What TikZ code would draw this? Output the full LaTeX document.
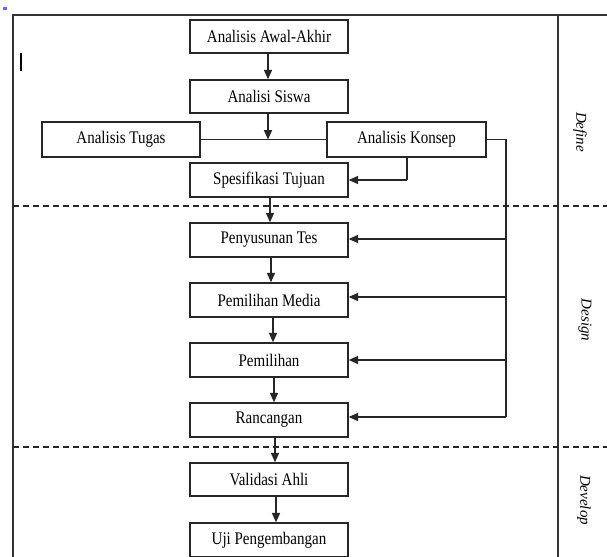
\documentclass[tikz,border=0pt]{standalone}
\usepackage{fontspec}
\usepackage{graphicx}
\setmainfont{Liberation Serif}
\usetikzlibrary{arrows.meta,calc}
\newcommand{\bt}[1]{\scalebox{1}[1.18]{#1}}
\tikzset{
  box/.style={draw=black!85, line width=1.1pt, fill=white, inner sep=0pt,
    minimum width=118.5pt, minimum height=25.5pt,
    font=\fontsize{11.25}{13}\selectfont},
  arr/.style={draw=black!85, line width=1.1pt, -{Triangle[length=7pt,width=6pt]}},
  ln/.style={draw=black!85, line width=1.1pt},
  frame/.style={draw=black!80, line width=1.1pt},
  dash line/.style={draw=black!85, line width=1.1pt, dash pattern=on 4.5pt off 3pt},
  phase/.style={rotate=-90, font=\fontsize{11.25}{13}\selectfont\itshape, inner sep=0pt}
}
\begin{document}
\begin{tikzpicture}[x=0.75pt,y=-0.75pt]
\useasboundingbox (0,0) rectangle (607,557);
\fill[white] (0,0) rectangle (607,557);
% frame
\draw[frame] (13,557) -- (13,15) -- (607,15);
\draw[frame] (558,15) -- (558,557);
\draw[dash line] (13,206) -- (607,206);
\draw[dash line] (13,447) -- (607,447);
% marks
\fill[blue!60] (3,7) rectangle (7,10);
\draw[black, line width=1.6pt] (21,53) -- (21,71);
% boxes
\node[box, minimum height=24.75pt] (awal) at (269,36.5) {\bt{Analisis Awal-Akhir}};
\node[box, minimum height=24.75pt] (siswa) at (269,96.5) {\bt{Analisi Siswa}};
\node[box, minimum height=26.25pt] (tugas) at (121,139.5) {\bt{Analisis Tugas}};
\node[box, minimum height=26.25pt, minimum width=119.25pt] (konsep) at (406.5,139.5) {\bt{Analisis Konsep}};
\node[box] (spes) at (269,180) {\bt{Spesifikasi Tujuan}};
\node[box] (tes) at (269,240) {\bt{Penyusunan Tes}};
\node[box] (media) at (269,300) {\bt{Pemilihan Media}};
\node[box] (pilih) at (269,360) {\bt{Pemilihan}};
\node[box] (ranc) at (269,420) {\bt{Rancangan}};
\node[box, minimum height=24.75pt] (valid) at (269,479.5) {\bt{Validasi Ahli}};
\node[box] (uji) at (269,540) {\bt{Uji Pengembangan}};
% phase labels
\node[phase] (define) at (580,132) {Define};
\node[phase] (design) at (585,320) {Design};
\node[phase] (develop) at (584,500) {Develop};
% connectors
\coordinate (j) at (268,139.5);
\coordinate (kb) at (407,180);
\coordinate (kr) at (506,139.5);
\coordinate (kd) at (506,417);
\draw[arr] ([xshift=-0.75pt]awal.south) -- ([xshift=-0.75pt]siswa.north);
\draw[ln] (tugas.east) -- (konsep.west);
\draw[arr] ([xshift=-0.75pt]siswa.south) -- (j);
\draw[ln] (konsep.south -| kb) -- (kb);
\draw[arr] (kb) -- (spes.east);
\draw[ln] (konsep.east) -- (kr) -- (kd);
\draw[arr] (506,239) -- (tes.east |- 0,239);
\draw[arr] (506,297) -- (media.east |- 0,297);
\draw[arr] (506,360) -- (pilih.east |- 0,360);
\draw[arr] (kd) -- (ranc.east |- kd);
\draw[arr] ([xshift=0.75pt]spes.south) -- ([xshift=0.75pt]tes.north);
\draw[arr] ([xshift=1.5pt]tes.south) -- ([xshift=1.5pt]media.north);
\draw[arr] ([xshift=3pt]media.south) -- ([xshift=3pt]pilih.north);
\draw[arr] ([xshift=3.75pt]pilih.south) -- ([xshift=3.75pt]ranc.north);
\draw[arr] ([xshift=4.5pt]ranc.south) -- ([xshift=4.5pt]valid.north);
\draw[arr] ([xshift=5.25pt]valid.south) -- ([xshift=5.25pt]uji.north);
\end{tikzpicture}
\end{document}
